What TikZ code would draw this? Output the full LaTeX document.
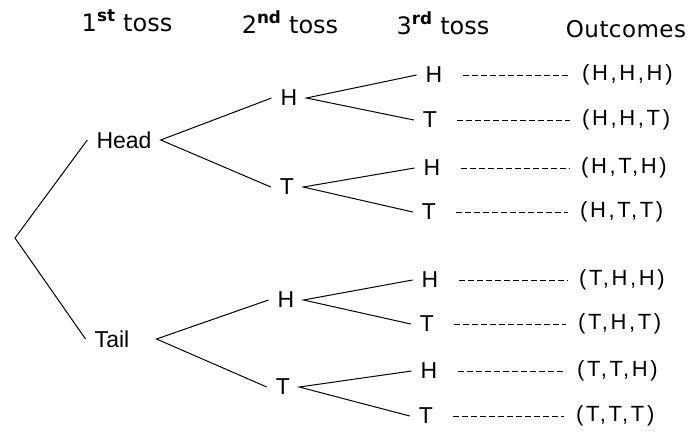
\documentclass[tikz,border=0pt]{standalone}
\usepackage{fontspec}
\setmainfont{Liberation Sans}
\newfontfamily\hdrfont{DejaVu Sans}
\newfontfamily\outfont[LetterSpace=12]{Liberation Sans}
\newfontfamily\outhdrfont[LetterSpace=2]{DejaVu Sans}
\begin{document}
\begin{tikzpicture}[x=1pt,y=-1pt,
  lbl/.style={font=\fontsize{23}{23}\selectfont, inner xsep=9pt, inner ysep=2pt},
  hdr/.style={font=\hdrfont\fontsize{24}{24}\selectfont, anchor=base, inner sep=0pt},
  outhdr/.style={font=\outhdrfont\fontsize{23}{23}\selectfont, anchor=base, inner sep=0pt},
  outc/.style={font=\outfont\fontsize{22}{22}\selectfont, anchor=west, inner xsep=12pt, inner ysep=0pt},
  branch/.style={line width=1pt},
  guide/.style={line width=1pt, dash pattern=on 6pt off 3pt}]
\useasboundingbox (0,0) rectangle (692,434);

% headers
\node[hdr] (hd1) at (127,31) {1\textsuperscript{\bfseries st} toss};
\node[hdr] (hd2) at (290,33) {2\textsuperscript{\bfseries nd} toss};
\node[hdr] (hd3) at (443,34) {3\textsuperscript{\bfseries rd} toss};
\node[outhdr] (hd4) at (626,37) {Outcomes};

% root
\coordinate (root) at (15,238);

% first toss
\node[lbl] (head) at (124,140) {Head};
\node[lbl] (tail) at (112,339) {Tail};

% second toss
\node[lbl] (s1) at (289,98) {H};
\node[lbl] (s2) at (287,187) {T};
\node[lbl] (s3) at (286,300) {H};
\node[lbl] (s4) at (283,387) {T};

% third toss
\node[lbl] (l1) at (434,75) {H};
\node[lbl] (l2) at (430,120) {T};
\node[lbl] (l3) at (432,168) {H};
\node[lbl] (l4) at (429,212) {T};
\node[lbl] (l5) at (430,280) {H};
\node[lbl] (l6) at (427,324) {T};
\node[lbl] (l7) at (429,371) {H};
\node[lbl] (l8) at (426,416) {T};

% outcomes
\node[outc] (o1) at (570,75) {(H,H,H)};
\node[outc] (o2) at (570,120) {(H,H,T)};
\node[outc] (o3) at (569,168) {(H,T,H)};
\node[outc] (o4) at (568,212) {(H,T,T)};
\node[outc] (o5) at (567,280) {(T,H,H)};
\node[outc] (o6) at (566,324) {(T,H,T)};
\node[outc] (o7) at (565,371) {(T,T,H)};
\node[outc] (o8) at (564,416) {(T,T,T)};

% branches
\draw[branch] (head.west) -- (root) -- (tail.west);
\draw[branch] (s1.west) -- (head.east) -- (s2.west);
\draw[branch] (s3.west) -- ([xshift=18pt]tail.east) -- (s4.west);
\draw[branch] (l1.west) -- (s1.east) -- (l2.west);
\draw[branch] (l3.west) -- (s2.east) -- (l4.west);
\draw[branch] (l5.west) -- (s3.east) -- (l6.west);
\draw[branch] (l7.west) -- (s4.east) -- (l8.west);

% guides
\foreach \i in {1,...,8}
  \draw[guide] ([xshift=11pt]l\i.east) -- (o\i.west);
\end{tikzpicture}
\end{document}
